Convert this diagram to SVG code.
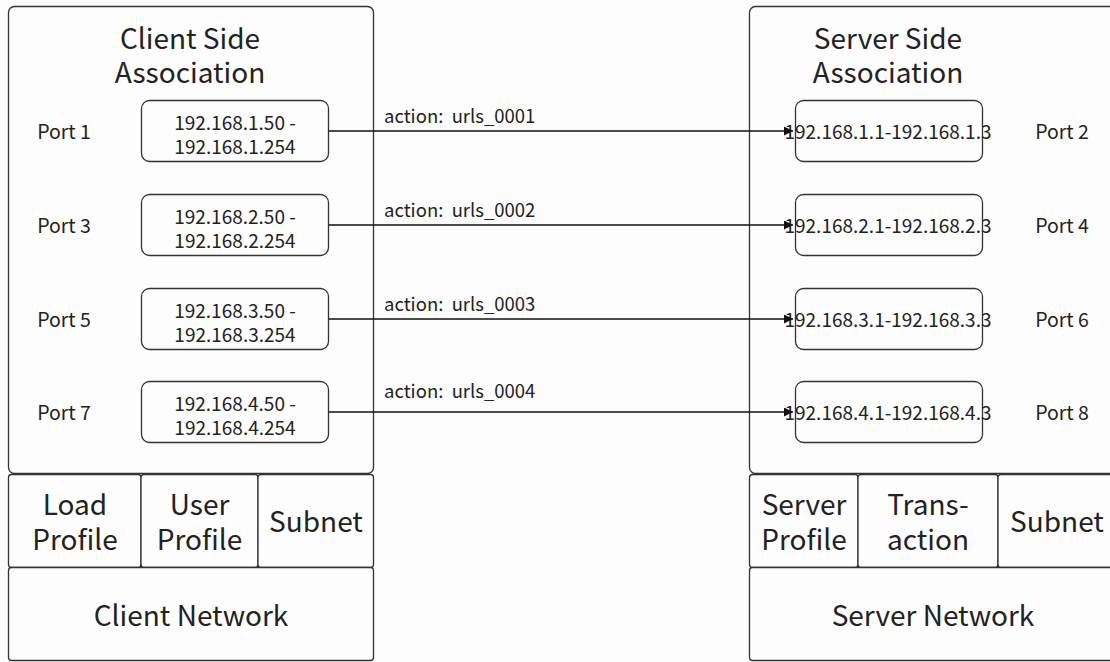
<svg xmlns="http://www.w3.org/2000/svg" width="1110" height="662" viewBox="0 0 1110 662">
<defs>
<style>
.box{fill:#fdfdfd;stroke:#333;stroke-width:1.3}
.t{font-family:"Noto Sans CJK SC","Noto Sans",sans-serif;fill:#222;text-anchor:middle}
.big{font-size:28px}
.sm{font-size:19.5px}
.ip{font-size:19px}
.lbl{font-size:18.5px;text-anchor:start}
.conn{stroke:#111;stroke-width:1.4;fill:none}
</style>
<marker id="ah" viewBox="0 0 10 10" refX="10" refY="5" markerWidth="9" markerHeight="9" markerUnits="userSpaceOnUse" orient="auto">
<path d="M0,0 L10,5 L0,10 z" fill="#111"/>
</marker>
</defs>
<rect x="0" y="0" width="1110" height="662" fill="#fcfcfc"/>

<g id="client-assoc">
<rect class="box" x="8.5" y="6.5" width="365" height="467" rx="6"/>
<text class="t big" x="190" y="49">Client Side</text>
<text class="t big" x="190" y="83">Association</text>
</g>
<g id="server-assoc">
<rect class="box" x="749.5" y="6.5" width="367" height="467" rx="6"/>
<text class="t big" x="888" y="49">Server Side</text>
<text class="t big" x="888" y="83">Association</text>
</g>

<g id="client-range-1"><rect class="box" x="141.5" y="100.5" width="187" height="61" rx="8"/>
<text class="t ip" x="235" y="130">192.168.1.50 -</text><text class="t ip" x="235" y="154">192.168.1.254</text></g>
<g id="client-range-2"><rect class="box" x="141.5" y="194.5" width="187" height="61" rx="8"/>
<text class="t ip" x="235" y="224">192.168.2.50 -</text><text class="t ip" x="235" y="248">192.168.2.254</text></g>
<g id="client-range-3"><rect class="box" x="141.5" y="288.5" width="187" height="61" rx="8"/>
<text class="t ip" x="235" y="318">192.168.3.50 -</text><text class="t ip" x="235" y="342">192.168.3.254</text></g>
<g id="client-range-4"><rect class="box" x="141.5" y="381.5" width="187" height="61" rx="8"/>
<text class="t ip" x="235" y="411">192.168.4.50 -</text><text class="t ip" x="235" y="435">192.168.4.254</text></g>

<g id="port-1"><text class="t sm" x="64" y="139">Port 1</text></g>
<g id="port-3"><text class="t sm" x="64" y="233">Port 3</text></g>
<g id="port-5"><text class="t sm" x="64" y="327">Port 5</text></g>
<g id="port-7"><text class="t sm" x="64" y="420">Port 7</text></g>

<g id="server-range-1"><rect class="box" x="795.5" y="100.5" width="187" height="61" rx="8"/>
<text class="t ip" x="888" y="139">192.168.1.1-192.168.1.3</text></g>
<g id="server-range-2"><rect class="box" x="795.5" y="194.5" width="187" height="61" rx="8"/>
<text class="t ip" x="888" y="233">192.168.2.1-192.168.2.3</text></g>
<g id="server-range-3"><rect class="box" x="795.5" y="288.5" width="187" height="61" rx="8"/>
<text class="t ip" x="888" y="327">192.168.3.1-192.168.3.3</text></g>
<g id="server-range-4"><rect class="box" x="795.5" y="381.5" width="187" height="61" rx="8"/>
<text class="t ip" x="888" y="420">192.168.4.1-192.168.4.3</text></g>

<g id="port-2"><text class="t sm" x="1062" y="139">Port 2</text></g>
<g id="port-4"><text class="t sm" x="1062" y="233">Port 4</text></g>
<g id="port-6"><text class="t sm" x="1062" y="327">Port 6</text></g>
<g id="port-8"><text class="t sm" x="1062" y="420">Port 8</text></g>

<g id="client-cells">
<rect class="box" x="8.5" y="474.5" width="132.5" height="93" rx="3"/>
<rect class="box" x="141" y="474.5" width="117" height="93" rx="3"/>
<rect class="box" x="258" y="474.5" width="115.5" height="93" rx="3"/>
<text class="t big" x="75" y="515">Load</text><text class="t big" x="75" y="550">Profile</text>
<text class="t big" x="199.5" y="515">User</text><text class="t big" x="199.5" y="550">Profile</text>
<text class="t big" x="316" y="532">Subnet</text>
</g>
<g id="client-network">
<rect class="box" x="8.5" y="567.5" width="365" height="93" rx="3"/>
<text class="t big" x="191" y="626">Client Network</text>
</g>

<g id="server-cells">
<rect class="box" x="749.5" y="474.5" width="108.5" height="93" rx="3"/>
<rect class="box" x="858" y="474.5" width="140" height="93" rx="3"/>
<rect class="box" x="998" y="474.5" width="118" height="93" rx="3"/>
<text class="t big" x="804" y="515">Server</text><text class="t big" x="804" y="550">Profile</text>
<text class="t big" x="928" y="515">Trans-</text><text class="t big" x="928" y="550">action</text>
<text class="t big" x="1057" y="532">Subnet</text>
</g>
<g id="server-network">
<rect class="box" x="749.5" y="567.5" width="367" height="93" rx="3"/>
<text class="t big" x="933" y="626">Server Network</text>
</g>

<g id="connectors">
<line class="conn" x1="329" y1="131" x2="793" y2="131" marker-end="url(#ah)"/>
<line class="conn" x1="329" y1="225" x2="793" y2="225" marker-end="url(#ah)"/>
<line class="conn" x1="329" y1="319" x2="793" y2="319" marker-end="url(#ah)"/>
<line class="conn" x1="329" y1="412" x2="793" y2="412" marker-end="url(#ah)"/>
<text class="t lbl" x="384" y="123">action:&#160; urls_0001</text>
<text class="t lbl" x="384" y="217">action:&#160; urls_0002</text>
<text class="t lbl" x="384" y="311">action:&#160; urls_0003</text>
<text class="t lbl" x="384" y="398">action:&#160; urls_0004</text>
</g>
</svg>
